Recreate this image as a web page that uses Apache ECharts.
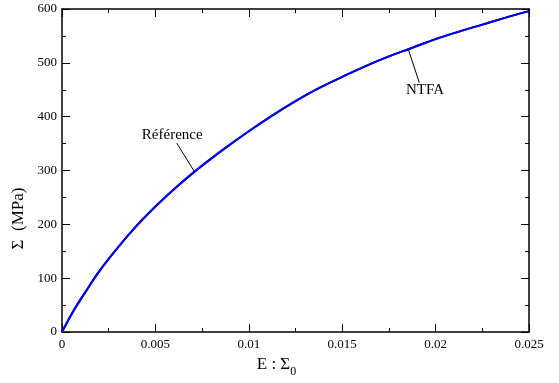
<!DOCTYPE html>
<html>
<head>
<meta charset="utf-8">
<script src="https://cdn.jsdelivr.net/npm/echarts@6/dist/echarts.min.js"></script>
<style>
html,body{margin:0;padding:0;background:#fff;}
#c{width:559px;height:383px;}
</style>
</head>
<body>
<div id="c"></div>
<script>
// Data
var strain = [0, 0.000625, 0.00125, 0.001875, 0.0025, 0.00375, 0.005, 0.00625, 0.0075, 0.00875, 0.01, 0.01125, 0.0125, 0.01375, 0.015, 0.01625, 0.0175, 0.01875, 0.02, 0.02125, 0.0225, 0.02375, 0.025];
var refValues = [0, 40, 74, 107, 136, 188, 233, 273, 309, 342, 373, 402, 429, 453, 474, 494, 512, 528, 544, 558, 571, 584, 596];
var ntfaValues = [0, 40, 74, 107, 136, 188, 233, 273, 309, 342, 373, 402, 429, 453, 474, 494, 512, 528, 544, 558, 571, 584, 596];
var xTicks = [0, 0.005, 0.01, 0.015, 0.02, 0.025];
var yTicks = [0, 100, 200, 300, 400, 500, 600];
// annotation anchors (data coordinates)
var refPointer = [[0.00614, 351], [0.00707, 299]];
var refLabel = [0.00590, 366];
var ntfaPointer = [[0.01854, 525], [0.01913, 463]];
var ntfaLabel = [0.01943, 449];

function pairs(xs, ys){ return xs.map(function(x,i){return [x, ys[i]];}); }

var font = 'Liberation Serif';
var axisCommon = {
  axisLine:{show:true, onZero:false, lineStyle:{color:'#000', width:1.5}},
  axisTick:{show:true, inside:true, length:8, lineStyle:{color:'#000', width:1}},
  minorTick:{show:true, splitNumber:2, length:4, lineStyle:{color:'#000', width:1}},
  splitLine:{show:false}
};
function ax(extra){ return Object.assign({}, JSON.parse(JSON.stringify(axisCommon)), extra); }

var chart = echarts.init(document.getElementById('c'), null, {renderer:'canvas'});
chart.setOption({
  animation:false,
  backgroundColor:'#fff',
  grid:{left:62, right:30, top:9, bottom:48, containLabel:false},
  xAxis:[
    ax({type:'value', position:'bottom', min:xTicks[0], max:xTicks[xTicks.length-1], interval:0.005,
      axisLabel:{color:'#000', fontFamily:font, fontSize:13, margin:6,
        formatter:function(v){ return String(+v.toFixed(4)); }},
      name:'{a|E : Σ}{s|0}', nameLocation:'middle', nameGap:20,
      nameTextStyle:{padding:[0,38,0,0], rich:{a:{fontFamily:font, fontSize:17, color:'#000'}, s:{fontFamily:font, fontSize:12, color:'#000', padding:[14,0,0,0]}}}
    }),
    ax({type:'value', position:'top', min:xTicks[0], max:xTicks[xTicks.length-1], interval:0.005,
      axisLabel:{show:false}})
  ],
  yAxis:[
    ax({type:'value', position:'left', min:yTicks[0], max:yTicks[yTicks.length-1], interval:100,
      axisLabel:{color:'#000', fontFamily:font, fontSize:13, margin:5},
      name:'Σ  (MPa)', nameLocation:'middle', nameGap:31, nameRotate:90,
      nameTextStyle:{fontFamily:font, fontSize:17, color:'#000', padding:[0,96,0,0]}
    }),
    ax({type:'value', position:'right', min:yTicks[0], max:yTicks[yTicks.length-1], interval:100,
      axisLabel:{show:false}})
  ],
  series:[
    {name:'NTFA', type:'line', data:pairs(strain, ntfaValues), smooth:0.4, showSymbol:false,
      lineStyle:{color:'#000', width:2}, z:2,
      markLine:{silent:true, symbol:['none','none'], label:{show:false},
        lineStyle:{color:'#000', width:1, type:'solid'},
        data:[[{coord:ntfaPointer[0]},{coord:ntfaPointer[1]}]]},
      markPoint:{silent:true, symbol:'circle', symbolSize:0,
        data:[{coord:ntfaLabel, value:'NTFA'}],
        label:{show:true, position:'inside', color:'#000', fontFamily:font, fontSize:15, formatter:'NTFA'}}
    },
    {name:'Référence', type:'line', data:pairs(strain, refValues), smooth:0.4, showSymbol:false,
      lineStyle:{color:'#0000ff', width:2}, z:3,
      markLine:{silent:true, symbol:['none','none'], label:{show:false},
        lineStyle:{color:'#000', width:1, type:'solid'},
        data:[[{coord:refPointer[0]},{coord:refPointer[1]}]]},
      markPoint:{silent:true, symbol:'circle', symbolSize:0,
        data:[{coord:refLabel, value:'Référence'}],
        label:{show:true, position:'inside', color:'#000', fontFamily:font, fontSize:15, formatter:'Référence'}}
    }
  ]
});
</script>
</body>
</html>
